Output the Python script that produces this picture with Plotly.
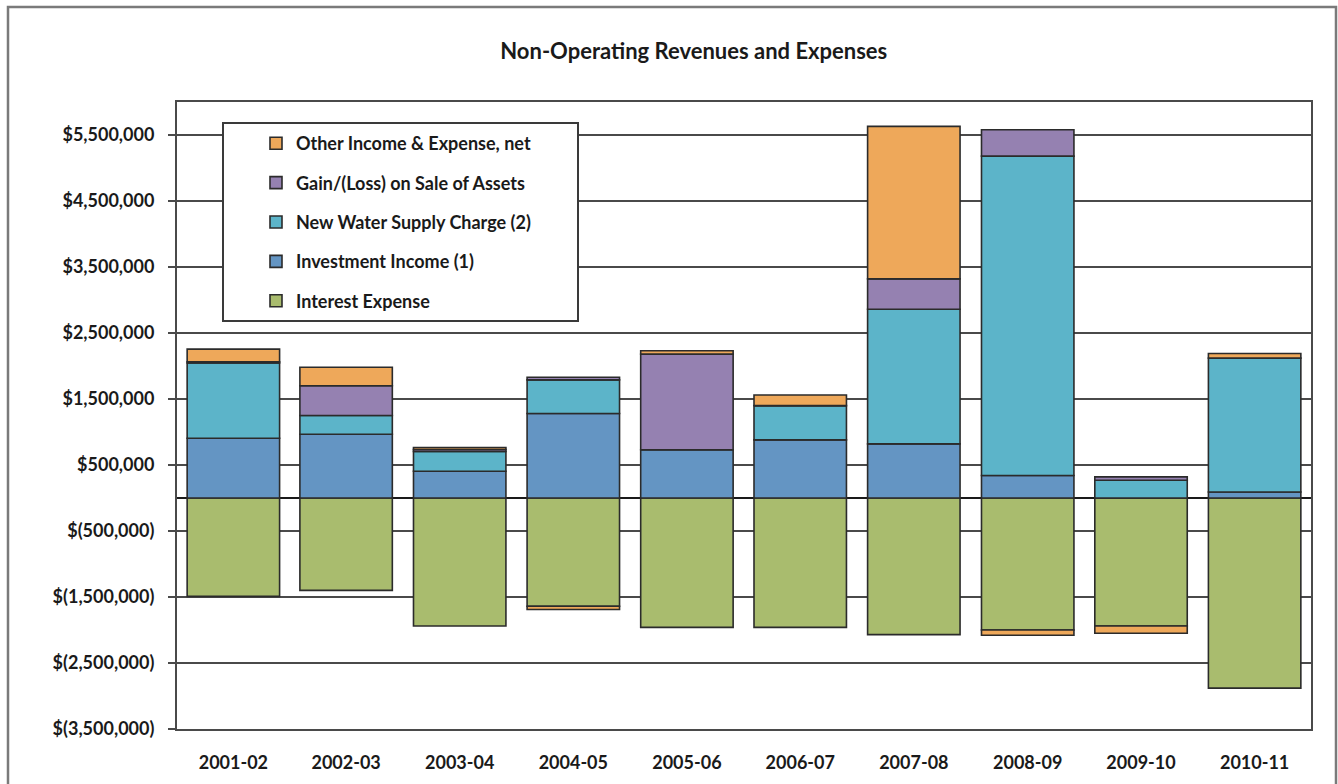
import plotly.graph_objects as go

categories = ["2001-02", "2002-03", "2003-04", "2004-05", "2005-06",
              "2006-07", "2007-08", "2008-09", "2009-10", "2010-11"]

interest_expense = [-1490000, -1400000, -1940000, -1640000, -1960000,
                    -1960000, -2070000, -2000000, -1940000, -2880000]
investment_income = [905000, 965000, 405000, 1280000, 730000,
                     880000, 820000, 340000, 0, 90000]
new_water_supply = [1140000, 285000, 300000, 510000, 0,
                    520000, 2040000, 4840000, 270000, 2030000]
gain_loss_assets = [20000, 450000, 30000, 40000, 1450000,
                    0, 460000, 400000, 50000, 0]
other_income = [190000, 280000, 30000, -50000, 50000,
                160000, 2310000, -80000, -110000, 70000]

series_names = ["Interest Expense", "Investment Income (1)", "New Water Supply Charge (2)",
                "Gain/(Loss) on Sale of Assets", "Other Income & Expense, net"]
series_values = [interest_expense, investment_income, new_water_supply,
                 gain_loss_assets, other_income]
series_colors = ["#A9BC6E", "#6495C3", "#5CB4C9", "#9581B1", "#EEA85A"]

y_tick_values = [-3500000, -2500000, -1500000, -500000, 500000,
                 1500000, 2500000, 3500000, 4500000, 5500000]


def money(v):
    if v < 0:
        return "$({:,.0f})".format(-v)
    return "${:,.0f}".format(v)


FONT = "Lato, 'Open Sans', sans-serif"

fig = go.Figure()
n = len(series_names)
for i, (name, vals, col) in enumerate(zip(series_names, series_values, series_colors)):
    fig.add_trace(go.Bar(
        x=categories, y=vals, name=name, legendgroup=name,
        legendrank=n - i,
        marker=dict(color=col, line=dict(color="#2b2b2b", width=1.6)),
    ))

# plot area in pixels: left 177, right 1311, top 102, bottom 729
W, H = 1338, 784
L, R, T, B = 177, 1311, 102, 729
pw, ph = R - L, B - T


def px(x):
    return (x - L) / pw


def py(y):
    return (B - y) / ph


fig.update_layout(
    width=W, height=H,
    margin=dict(l=L, r=W - R, t=T, b=H - B),
    barmode="relative",
    bargap=0.18,
    plot_bgcolor="white",
    paper_bgcolor="white",
    font=dict(family=FONT, size=18, color="#1a1a1a"),
    title=dict(text="<b>Non-Operating Revenues and Expenses</b>",
               x=0.5185, xanchor="center", y=1 - 51 / H, yanchor="middle",
               font=dict(family=FONT, size=22, color="#1a1a1a")),
    showlegend=True,
    legend=dict(
        traceorder="grouped",
        tracegroupgap=13,
        x=px(256), xanchor="left",
        y=py(125), yanchor="top",
        bgcolor="rgba(0,0,0,0)",
        borderwidth=0,
        font=dict(family=FONT, size=18, color="#1a1a1a", weight="bold"),
        itemclick=False, itemdoubleclick=False,
    ),
    shapes=[
        # legend box
        dict(type="rect", xref="paper", yref="paper",
             x0=px(223), x1=px(578), y0=py(321), y1=py(123),
             fillcolor="white", line=dict(color="#3a3a3a", width=2), layer="above"),
        # outer chart frame
        dict(type="rect", xref="paper", yref="paper",
             x0=px(8), x1=px(1336), y0=py(800), y1=py(7),
             fillcolor="rgba(0,0,0,0)", line=dict(color="#7a7a7a", width=2.5), layer="below"),
    ],
)

fig.update_yaxes(
    range=[-3500000, 6000000],
    tickvals=y_tick_values,
    ticktext=["<b>" + money(v) + "</b>" for v in y_tick_values],
    showgrid=True, gridcolor="#4a4a4a", gridwidth=2,
    zeroline=True, zerolinecolor="#1a1a1a", zerolinewidth=2,
    showline=True, linecolor="#4a4a4a", linewidth=2, mirror=True,
    ticks="outside", ticklen=7, tickcolor="#4a4a4a", tickwidth=2,
    ticklabelstandoff=10,
    tickfont=dict(family=FONT, size=18, color="#1a1a1a"),
    fixedrange=True,
)
fig.update_xaxes(
    tickvals=categories,
    ticktext=["<b>" + c + "</b>" for c in categories],
    showgrid=False,
    showline=True, linecolor="#4a4a4a", linewidth=2, mirror=True,
    ticks="", ticklabelstandoff=16,
    tickfont=dict(family=FONT, size=18, color="#1a1a1a"),
    fixedrange=True,
)

fig.write_html("out.html", config={"displayModeBar": False})
